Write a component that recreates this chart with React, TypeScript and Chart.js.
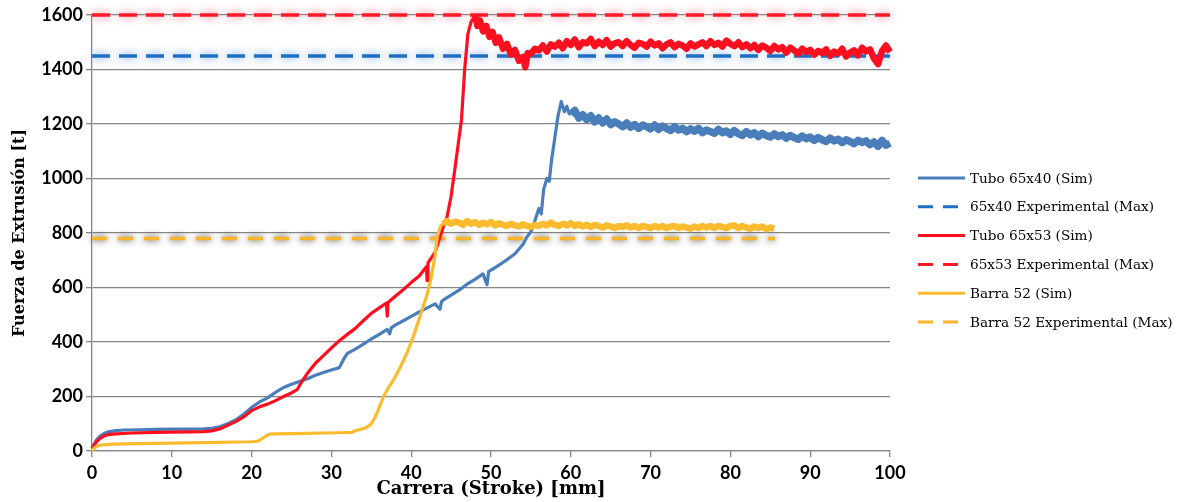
import React, { useEffect, useRef } from "react";
import { Chart, registerables } from "chart.js";

Chart.register(...registerables);

const xTickValues = [0, 10, 20, 30, 40, 50, 60, 70, 80, 90, 100];
const yTickValues = [0, 200, 400, 600, 800, 1000, 1200, 1400, 1600];

const seriesLabels = [
  "Tubo 65x40 (Sim)",
  "65x40 Experimental (Max)",
  "Tubo 65x53 (Sim)",
  "65x53 Experimental (Max)",
  "Barra 52 (Sim)",
  "Barra 52 Experimental (Max)",
];

const tubo6540Sim: [number, number][] = [
  [0, 10], [0.5, 38], [1, 55], [1.5, 64], [2, 70], [3, 75], [4, 77], [6, 78], [8, 79], [10, 80],
  [12, 80], [14, 81], [15, 83], [16, 89], [17, 100], [18, 114], [19, 135], [20, 160], [21, 180],
  [22, 195], [23, 215], [24, 233], [25, 245], [26, 255], [27, 265], [28, 278], [29, 288], [30, 297],
  [31, 306], [31.5, 335], [32, 358], [33, 374], [34, 392], [35, 411], [36, 428], [37, 446], [37.3, 430],
  [37.5, 452], [38, 462], [39, 478], [40, 494], [41, 510], [42, 525], [43, 540], [43.6, 520], [43.8, 548],
  [44, 554], [45, 572], [46, 590], [47, 612], [48, 630], [49, 650], [49.5, 610], [49.7, 658], [50, 664],
  [51, 682], [52, 702], [53, 724], [54, 758], [54.5, 785], [55, 805], [55.5, 845], [56, 890], [56.3, 870],
  [56.6, 960], [57, 1000], [57.3, 990], [57.6, 1070], [58, 1150], [58.4, 1230], [58.8, 1282], [59.2, 1245],
  [59.5, 1265], [59.8, 1238],
  [60, 1236], [60.5, 1250], [61, 1222], [61.5, 1234], [62, 1216], [62.5, 1230], [63, 1208], [63.5, 1222],
  [64, 1204], [64.5, 1218], [65, 1198], [65.5, 1208], [66, 1200], [66.5, 1190], [67, 1204], [67.5, 1188],
  [68, 1198], [68.5, 1184], [69, 1196], [69.5, 1190], [70, 1182], [70.5, 1196], [71, 1180], [71.5, 1192],
  [72, 1184], [72.5, 1176], [73, 1190], [73.5, 1178], [74, 1184], [74.5, 1172], [75, 1182], [75.5, 1174],
  [76, 1184], [76.5, 1168], [77, 1178], [77.5, 1172], [78, 1166], [78.5, 1180], [79, 1168], [79.5, 1174],
  [80, 1162], [80.5, 1176], [81, 1164], [81.5, 1158], [82, 1172], [82.5, 1160], [83, 1168], [83.5, 1154],
  [84, 1166], [84.5, 1158], [85, 1152], [85.5, 1164], [86, 1154], [86.5, 1160], [87, 1148], [87.5, 1158],
  [88, 1150], [88.5, 1144], [89, 1156], [89.5, 1146], [90, 1152], [90.5, 1140], [91, 1150], [91.5, 1142],
  [92, 1136], [92.5, 1148], [93, 1138], [93.5, 1144], [94, 1132], [94.5, 1142], [95, 1136], [95.5, 1128],
  [96, 1140], [96.5, 1132], [97, 1138], [97.5, 1124], [98, 1134], [98.5, 1118], [99, 1140], [99.5, 1122],
  [100, 1130],
];

const exp6540: [number, number][] = [[0, 1450], [100, 1450]];

const tubo6553Sim: [number, number][] = [
  [0, 10], [0.5, 32], [1, 46], [1.5, 55], [2, 60], [3, 63], [5, 66], [8, 68], [10, 69], [12, 70],
  [14, 71], [15, 74], [16, 81], [17, 94], [18, 108], [19, 125], [20, 148], [21, 162], [22, 172], [23, 185],
  [24, 200], [25, 213], [25.7, 225], [26.3, 255], [27, 285], [28, 322], [29, 350], [30, 378], [31, 405],
  [32, 428], [33, 450], [34, 478], [35, 505], [36, 525], [36.9, 543], [37, 495], [37.1, 545], [38, 568],
  [39, 592], [40, 618], [41, 642], [41.9, 676], [42, 625], [42.1, 690], [43, 730], [43.5, 775], [44, 820],
  [44.5, 860], [45, 935], [45.5, 1040], [46, 1150], [46.3, 1215], [46.7, 1400], [47.1, 1530], [47.5, 1575],
  [48, 1598], [48.3, 1560], [48.6, 1580], [49, 1540], [49.4, 1560], [49.8, 1520], [50.2, 1538], [50.6, 1498],
  [51, 1518], [51.5, 1476], [52, 1494], [52.5, 1455], [53, 1472], [53.5, 1432], [54, 1446], [54.3, 1408],
  [54.6, 1460],
  [55, 1458], [55.5, 1476], [56, 1470], [56.5, 1488], [57, 1466], [57.5, 1492], [58, 1484], [58.5, 1498],
  [59, 1478], [59.5, 1504], [60, 1490], [60.5, 1510], [61, 1482], [61.5, 1500], [62, 1496], [62.5, 1512],
  [63, 1486], [63.5, 1502], [64, 1490], [64.5, 1508], [65, 1484], [65.5, 1496], [66, 1500], [66.5, 1486],
  [67, 1504], [67.5, 1490], [68, 1480], [68.5, 1498], [69, 1494], [69.5, 1484], [70, 1502], [70.5, 1488],
  [71, 1496], [71.5, 1478], [72, 1492], [72.5, 1500], [73, 1482], [73.5, 1494], [74, 1488], [74.5, 1476],
  [75, 1496], [75.5, 1484], [76, 1492], [76.5, 1500], [77, 1486], [77.5, 1504], [78, 1490], [78.5, 1498],
  [79, 1484], [79.5, 1506], [80, 1494], [80.5, 1486], [81, 1500], [81.5, 1482], [82, 1492], [82.5, 1478],
  [83, 1490], [83.5, 1472], [84, 1488], [84.5, 1480], [85, 1468], [85.5, 1486], [86, 1474], [86.5, 1482],
  [87, 1462], [87.5, 1480], [88, 1470], [88.5, 1458], [89, 1476], [89.5, 1464], [90, 1472], [90.5, 1454],
  [91, 1468], [91.5, 1460], [92, 1474], [92.5, 1450], [93, 1466], [93.5, 1458], [94, 1476], [94.5, 1448],
  [95, 1462], [95.5, 1470], [96, 1452], [96.5, 1480], [97, 1466], [97.5, 1474], [98, 1440], [98.5, 1420],
  [99, 1468], [99.5, 1488], [100, 1464],
];

const exp6553: [number, number][] = [[0, 1600], [100, 1600]];

const barra52Sim: [number, number][] = [
  [0, 0], [0.3, 12], [0.7, 18], [1, 21], [2, 24], [4, 26], [6, 27], [8, 28], [10, 29], [12, 30],
  [14, 31], [16, 32], [18, 33], [20, 34], [20.8, 36], [21.3, 45], [21.8, 55], [22.3, 62], [23, 63],
  [25, 64], [27, 65], [29, 66], [31, 67], [32.5, 68], [33, 74], [33.5, 79], [34, 82], [34.5, 88], [35, 100],
  [35.5, 125], [36, 160], [36.5, 198], [37, 225], [37.5, 248], [38, 272], [38.5, 300], [39, 330],
  [39.5, 362], [40, 400], [40.5, 440], [41, 485], [41.5, 530], [42, 575], [42.5, 635], [43, 720],
  [43.3, 790], [43.7, 826],
  [44, 834], [44.5, 844], [45, 834], [45.5, 842], [46, 838], [46.5, 830], [47, 844], [47.5, 834],
  [48, 840], [48.5, 830], [49, 838], [49.5, 832], [50, 840], [50.5, 828], [51, 836], [51.5, 830],
  [52, 826], [52.5, 834], [53, 828], [53.5, 824], [54, 832], [54.5, 826], [55, 822], [55.5, 830],
  [56, 826], [56.5, 834], [57, 828], [57.5, 838], [58, 830], [58.5, 826], [59, 834], [59.5, 828],
  [60, 836], [60.5, 826], [61, 832], [61.5, 824], [62, 830], [62.5, 822], [63, 830], [63.5, 826],
  [64, 820], [64.5, 828], [65, 824], [65.5, 818], [66, 826], [66.5, 822], [67, 828], [67.5, 820],
  [68, 826], [68.5, 818], [69, 826], [69.5, 822], [70, 818], [70.5, 826], [71, 820], [71.5, 826],
  [72, 818], [72.5, 824], [73, 826], [73.5, 818], [74, 824], [74.5, 820], [75, 816], [75.5, 824],
  [76, 818], [76.5, 826], [77, 820], [77.5, 826], [78, 818], [78.5, 826], [79, 822], [79.5, 818],
  [80, 826], [80.5, 828], [81, 818], [81.5, 826], [82, 820], [82.5, 816], [83, 824], [83.5, 818],
  [84, 824], [84.5, 814], [85, 820], [85.5, 816],
];

const expBarra52: [number, number][] = [[0, 780], [85.6, 780]];

const toXY = (arr: [number, number][]) => arr.map(([x, y]) => ({ x, y }));

// stroke from which the simulated force becomes a noisy band (drawn thicker)
const noisyFrom = { tubo6540: 59.9, tubo6553: 47.9, barra52: 43.9 };

const thickAfter = (x0: number, w: number) => (ctx: any) =>
  ctx.p0.parsed.x >= x0 ? w : undefined;

const GRID = "#868686";
const TICK_FONT = { family: "Lato", size: 18, weight: "bold" as const };

const glowPlugin = {
  id: "glowLines",
  beforeDatasetDraw(chart: any, args: any) {
    const ds = chart.data.datasets[args.index];
    if (!ds.glowColor) return;
    const ctx = chart.ctx;
    ctx.save();
    ctx.shadowColor = ds.glowColor;
    ctx.shadowBlur = ds.glowBlur || 9;
  },
  afterDatasetDraw(chart: any, args: any) {
    const ds = chart.data.datasets[args.index];
    if (!ds.glowColor) return;
    chart.ctx.restore();
  },
};

const sideLegend = {
  id: "sideLegend",
  afterDraw(chart: any) {
    const ctx = chart.ctx;
    const area = chart.chartArea;
    const x0 = area.right + 28;
    const spacing = 28.8;
    const datasets = chart.data.datasets;
    const y0 = (area.top + area.bottom) / 2 + 17 - (spacing * (datasets.length - 1)) / 2;
    ctx.save();
    datasets.forEach((ds: any, i: number) => {
      const y = y0 + i * spacing;
      ctx.strokeStyle = ds.borderColor;
      ctx.lineWidth = 3;
      ctx.lineCap = "butt";
      ctx.setLineDash(ds.borderDash ? [15, 10] : []);
      ctx.beginPath();
      ctx.moveTo(x0, y);
      ctx.lineTo(x0 + 47, y);
      ctx.stroke();
      ctx.setLineDash([]);
      ctx.fillStyle = "#000";
      ctx.font = '13.6px "DejaVu Serif"';
      ctx.textBaseline = "middle";
      ctx.textAlign = "left";
      ctx.fillText(ds.label, x0 + 52, y + 1);
    });
    ctx.restore();
  },
};

export default function App() {
  const canvasRef = useRef<HTMLCanvasElement | null>(null);

  useEffect(() => {
    if (!canvasRef.current) return;
    const chart = new Chart(canvasRef.current, {
      type: "line",
      data: {
        datasets: [
          {
            label: seriesLabels[0],
            data: toXY(tubo6540Sim),
            borderColor: "#4a7ebb",
            borderWidth: 3.2,
            segment: { borderWidth: thickAfter(noisyFrom.tubo6540, 7.5) },
            order: 3,
          },
          {
            label: seriesLabels[1],
            data: toXY(exp6540),
            borderColor: "#1f6fc4",
            borderWidth: 3.5,
            borderDash: [18, 9],
            order: 10,
            glowColor: "rgba(80,140,230,0.9)",
            glowBlur: 10,
          } as any,
          {
            label: seriesLabels[2],
            data: toXY(tubo6553Sim),
            borderColor: "#fc0f1f",
            borderWidth: 3.2,
            segment: { borderWidth: thickAfter(noisyFrom.tubo6553, 6.5) },
            order: 2,
          },
          {
            label: seriesLabels[3],
            data: toXY(exp6553),
            borderColor: "#ff1a2a",
            borderWidth: 3.5,
            borderDash: [18, 9],
            order: 11,
            glowColor: "rgba(255,90,110,0.9)",
            glowBlur: 10,
          } as any,
          {
            label: seriesLabels[4],
            data: toXY(barra52Sim),
            borderColor: "#fbbb2f",
            borderWidth: 3.2,
            segment: { borderWidth: thickAfter(noisyFrom.barra52, 6.5) },
            order: 1,
          },
          {
            label: seriesLabels[5],
            data: toXY(expBarra52),
            borderColor: "#fbb52a",
            borderWidth: 3.5,
            borderDash: [15, 11],
            order: 12,
            glowColor: "rgba(60,60,60,1)",
            glowBlur: 7,
          } as any,
        ],
      },
      options: {
        responsive: false,
        animation: false,
        layout: { padding: { left: 0, right: 294, top: 15, bottom: 0 } },
        elements: {
          point: { radius: 0, hoverRadius: 0 },
          line: { tension: 0, borderJoinStyle: "round", borderCapStyle: "butt" },
        },
        datasets: { line: { clip: false as any, fill: false } },
        plugins: {
          legend: { display: false },
          tooltip: { enabled: false },
        },
        scales: {
          x: {
            type: "linear",
            min: 0,
            max: 100,
            afterBuildTicks: (scale: any) => {
              scale.ticks = xTickValues.map((v) => ({ value: v }));
            },
            afterFit: (scale: any) => {
              scale.height = 51;
            },
            ticks: { font: TICK_FONT, color: "#000", padding: 5, maxRotation: 0, callback: (v: any) => String(v) },
            grid: { drawOnChartArea: false, drawTicks: true, tickLength: 6, color: GRID, lineWidth: 1.3 },
            border: { display: true, color: GRID, width: 1.3 },
            title: {
              display: true,
              text: "Carrera (Stroke) [mm]",
              font: { family: "DejaVu Serif", size: 18, weight: "bold" },
              color: "#000",
              padding: { top: 0, bottom: 2 },
            },
          },
          y: {
            type: "linear",
            min: 0,
            max: 1600,
            afterBuildTicks: (scale: any) => {
              scale.ticks = yTickValues.map((v) => ({ value: v }));
            },
            afterFit: (scale: any) => {
              scale.width = 92;
            },
            ticks: { font: TICK_FONT, color: "#000", padding: 3, callback: (v: any) => String(v) },
            grid: { drawOnChartArea: true, drawTicks: true, tickLength: 6, color: GRID, lineWidth: 1.3 },
            border: { display: true, color: GRID, width: 1.3 },
            title: {
              display: true,
              text: "Fuerza de Extrusión [t]",
              font: { family: "DejaVu Serif", size: 16, weight: "bold" },
              color: "#000",
              padding: { top: 10, bottom: 0 },
            },
          },
        },
      },
      plugins: [glowPlugin, sideLegend],
    });
    return () => chart.destroy();
  }, []);

  return (
    <div style={{ position: "fixed", left: 0, top: 0, width: 1184, height: 502, background: "#fff" }}>
      <canvas ref={canvasRef} width={1184} height={502} style={{ display: "block" }} />
    </div>
  );
}
